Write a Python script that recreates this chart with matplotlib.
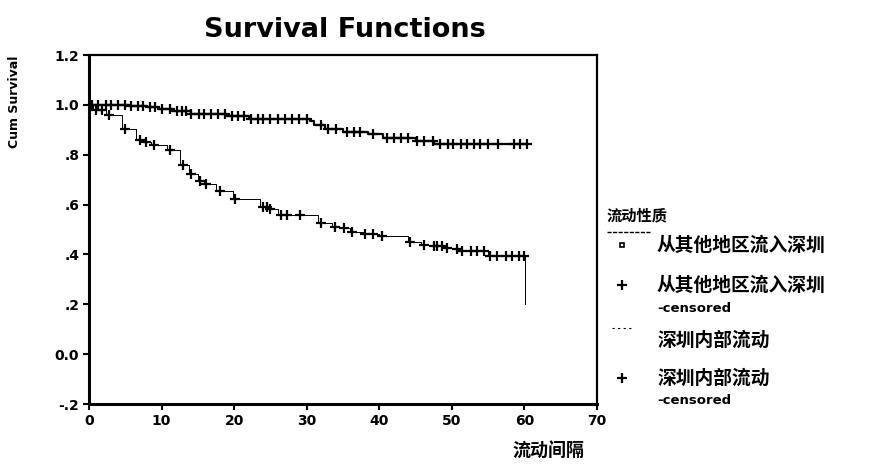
import matplotlib
matplotlib.use("Agg")
import matplotlib.pyplot as plt
from matplotlib.lines import Line2D
import numpy as np

plt.rcParams['font.family'] = ['DejaVu Sans', 'Noto Sans CJK SC']

# ---- data ----
title = "Survival Functions"
y_label = "Cum Survival"
x_label = "流动间隔"
legend_title = "流动性质"
group_names = ["从其他地区流入深圳", "深圳内部流动"]

x_ticks = [0, 10, 20, 30, 40, 50, 60, 70]
y_ticks = [-0.2, 0.0, 0.2, 0.4, 0.6, 0.8, 1.0, 1.2]
y_tick_labels = ["-.2", "0.0", ".2", ".4", ".6", ".8", "1.0", "1.2"]

# group 1: step survival curve (time, survival)
g1_time = [0, 5.5, 8, 9.5, 11.5, 14, 19, 22, 30.5, 31, 32.5, 35, 38.5, 40.5, 45, 47.5, 60.4]
g1_surv = [1.0, 0.995, 0.99, 0.983, 0.975, 0.965, 0.955, 0.945, 0.935, 0.92, 0.905,
           0.89, 0.882, 0.866, 0.855, 0.842, 0.842]
g1_censor = [0.4, 1.3, 2.3, 3.1, 4.0, 5.0, 5.8, 6.7, 7.5, 8.4, 9.1, 10.1, 11.2, 12.1,
             12.8, 13.3, 14.1, 15.1, 15.9, 16.8, 17.8, 18.8, 19.7, 20.6, 21.4, 22.3,
             23.3, 24.0, 25.0, 26.0, 27.0, 28.0, 29.0, 30.0, 32.0, 33.0, 34.0, 35.5,
             36.5, 37.4, 39.2, 41.0, 42.0, 43.0, 44.0, 45.2, 46.2, 47.4, 48.4, 49.4,
             50.2, 51.2, 52.1, 53.0, 53.9, 55.0, 56.3, 58.5, 59.4, 60.3]

# group 2: step survival curve (time, survival)
g2_time = [0, 0.5, 2.3, 4.5, 6.5, 7.5, 8.5, 10.8, 12.5, 13.8, 15.0, 15.8, 17.5, 19.8,
           23.5, 24.8, 26.0, 31.5, 33.5, 35.0, 36.0, 37.8, 40.0, 44.0, 45.8, 47.2,
           49.0, 50.5, 51.2, 55.0, 60.1]
g2_surv = [1.0, 0.978, 0.96, 0.902, 0.861, 0.852, 0.838, 0.817, 0.757, 0.723, 0.695,
           0.682, 0.655, 0.621, 0.59, 0.583, 0.557, 0.526, 0.512, 0.505, 0.489, 0.482,
           0.472, 0.448, 0.437, 0.432, 0.424, 0.421, 0.414, 0.394, 0.2]
g2_censor = [1.0, 1.8, 2.8, 5.0, 7.0, 7.9, 8.9, 11.2, 13.0, 14.1, 15.3, 16.1, 18.1,
             20.1, 24.0, 24.5, 25.0, 26.5, 27.3, 29.1, 32.0, 33.9, 35.1, 36.2, 38.1,
             39.2, 40.4, 44.3, 46.1, 47.5, 48.0, 48.6, 49.3, 50.7, 51.4, 52.6, 53.5,
             54.4, 55.3, 56.2, 57.4, 58.3, 59.2, 60.0]


def km_at(times, surv, t):
    idx = np.searchsorted(np.asarray(times), np.asarray(t), side='right') - 1
    return np.asarray(surv)[idx]


W, H = 884, 469
fig = plt.figure(figsize=(W / 100, H / 100), dpi=100)
L, R, T, B = 89, 597, 55, 404
ax = fig.add_axes([L / W, 1 - B / H, (R - L) / W, (B - T) / H])

ax.step(g1_time, g1_surv, where='post', color='black', lw=1.6)
ax.plot(g1_censor, km_at(g1_time, g1_surv, g1_censor), ls='none', marker='+',
        ms=7, mew=1.6, color='black')
ax.step(g2_time, g2_surv, where='post', color='black', lw=0.7)
ax.plot(g2_censor, km_at(g2_time, g2_surv, g2_censor), ls='none', marker='+',
        ms=7, mew=1.6, color='black')

ax.set_xlim(0, 70)
ax.set_ylim(-0.2, 1.2)
ax.set_xticks(x_ticks)
ax.set_xticklabels([str(v) for v in x_ticks], fontsize=10, fontweight='bold')
ax.set_yticks(y_ticks)
ax.set_yticklabels(y_tick_labels, fontsize=10, fontweight='bold')
ax.tick_params(direction='out', length=4, width=1.5, pad=3)
for s in ['left', 'bottom']:
    ax.spines[s].set_linewidth(2.2)
for s in ['top', 'right']:
    ax.spines[s].set_linewidth(1.6)

fig.text(345 / W, 1 - 30 / H, title, ha='center', va='center', fontsize=19.5,
         fontweight='bold')
fig.text(15 / W, 1 - 102 / H, y_label, ha='center', va='center', rotation=90,
         fontsize=9, fontweight='bold')
fig.text(548 / W, 1 - 451 / H, x_label, ha='center', va='center', fontsize=13,
         family=['Noto Sans CJK SC'], fontweight='bold')

# ---- legend (drawn manually) ----
cjk = ['Noto Sans CJK SC', 'DejaVu Sans']
fig.text(607 / W, 1 - 215 / H, legend_title, ha='left', va='center', fontsize=11,
         family=cjk, fontweight='bold')
fig.add_artist(Line2D([607 / W, 650 / W], [1 - 232 / H, 1 - 232 / H], color='black',
                      lw=1.0, ls=(0, (3, 1))))
rows = [
    (245, group_names[0], None, 'g1'),
    (285, group_names[0], 309, 'c'),
    (340, group_names[1], None, 'g2'),
    (378, group_names[1], 400, 'c'),
]
for y, name, ycens, kind in rows:
    fy = 1 - y / H
    if kind == 'g1':
        fig.add_artist(Line2D([622 / W], [fy], marker='s', ms=3.5, mfc='white',
                              mec='black', mew=1.2, ls='none'))
    elif kind == 'g2':
        fig.add_artist(Line2D([612 / W, 632 / W], [fy + 12 / H, fy + 12 / H],
                              color='black', lw=0.8, ls=(0, (2, 3))))
    else:
        fig.add_artist(Line2D([622 / W], [fy], marker='+', ms=7, mew=1.6,
                              color='black', ls='none'))
    fig.text(657 / W, fy, name, ha='left', va='center', fontsize=13.5, family=cjk,
             fontweight='bold')
    if ycens is not None:
        fig.text(657 / W, 1 - ycens / H, "-censored", ha='left', va='center',
                 fontsize=9.5, fontweight='bold')

fig.savefig("out.png", dpi=100)
